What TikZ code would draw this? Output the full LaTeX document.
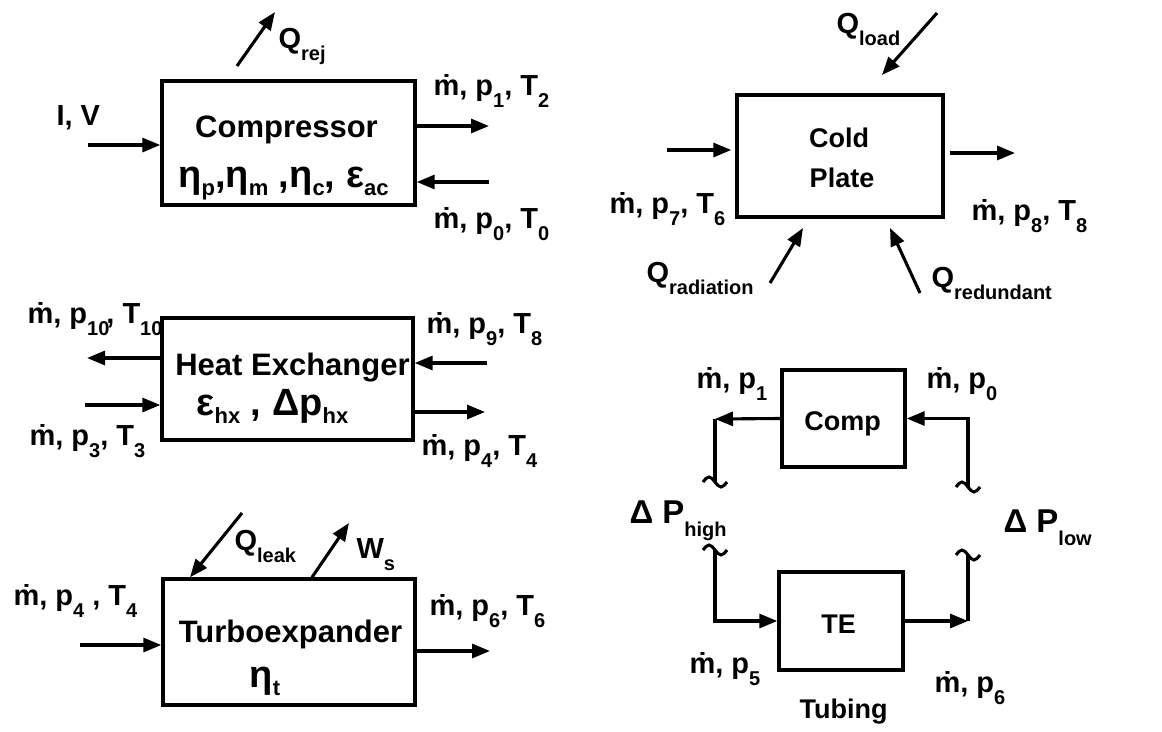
\documentclass[tikz,border=0pt]{standalone}
\usepackage{fontspec}
\setmainfont{Liberation Sans}
\usetikzlibrary{arrows.meta,positioning}

\newcommand\md{ṁ}
\newcommand\lo[1]{\raisebox{-.42em}{\fontsize{20}{20}\selectfont #1}}
\newcommand\glo[1]{\raisebox{-.22em}{\fontsize{22}{22}\selectfont #1}}

\begin{document}
\begin{tikzpicture}[
  x=1pt, y=-1pt,
  line width=3.1pt,
  blk/.style={draw, line width=3.4pt, inner sep=0pt,
              minimum width=#1},
  boxtxt/.style={font=\bfseries\fontsize{31}{33}\selectfont,
                 inner sep=0pt, anchor=base},
  smalltxt/.style={font=\bfseries\fontsize{27}{29}\selectfont,
                   inner sep=0pt, anchor=base},
  greek/.style={font=\bfseries\fontsize{38}{40}\selectfont,
                inner sep=0pt, anchor=base},
  lbl/.style={font=\bfseries\fontsize{29}{30}\selectfont,
              inner sep=0pt, anchor=base west},
  arr/.style={-{Triangle[length=18pt,width=14pt]}},
  tubewave/.pic={\draw (-12,0) sin (-6,-5) cos (0,0) sin (6,5) cos (12,0);},
]
\useasboundingbox (0,0) rectangle (1162,731);

%% --- Boxes ---
\node[blk=253pt, minimum height=124pt] (comp)   at (288.5,143) {};
\node[blk=251pt, minimum height=122pt] (hx)     at (287.5,379) {};
\node[blk=252pt, minimum height=126pt] (turbo)  at (289,642)   {};
\node[blk=206pt, minimum height=122pt] (cold)   at (840,156)   {};
\node[blk=123pt, minimum height=97pt]  (cmp)    at (843.5,418.5) {};
\node[blk=124pt, minimum height=98pt]  (tex)    at (841,621)   {};

%% --- Box texts ---
\node[boxtxt] (compname) at (286.5,137) {Compressor};
\node[greek]  (compeff)  at (283.5,187)
      {η\glo{p},η\glo{m} ,η\glo{c}, ε\glo{ac}};
\node[boxtxt] (hxname)   at (292.5,375) {Heat Exchanger};
\node[greek]  (hxeff)    at (272.5,415) {ε\glo{hx} , Δp\glo{hx}};
\node[boxtxt] (tename)   at (290.5,642) {Turboexpander};
\node[greek]  (teeff)    at (265,687)   {η\glo{t}};
\node[smalltxt] (coldA)  at (839,147)   {Cold};
\node[smalltxt] (coldB)  at (842,187)   {Plate};
\node[smalltxt] (cmpname) at (842.5,430) {Comp};
\node[smalltxt] (texname) at (838.5,633) {TE};
\node[smalltxt] (tubing)  at (843.5,718) {Tubing};

%% --- Compressor ---
\coordinate (qrjA) at (237,66);
\coordinate (qrjB) at (275,12);
\draw[arr] (qrjA) -- (qrjB);
\node[lbl] (qrj) at (277,48) {Q\lo{rej}};
\coordinate (iv) at (88,145);
\draw[arr] (iv) -- (iv -| comp.west);
\node[lbl] (ivlbl) at (55,125) {I, V};
\coordinate (c1) at (489,126);
\draw[arr] (c1 -| comp.east) -- (c1);
\node[lbl] (c1lbl) at (432,95) {\md, p\lo{1}, T\lo{2}};
\coordinate (c0) at (489,182);
\draw[arr] (c0) -- (c0 -| comp.east);
\node[lbl] (c0lbl) at (432,228) {\md, p\lo{0}, T\lo{0}};

%% --- Heat exchanger ---
\coordinate (h10) at (87,358);
\draw[arr] (h10 -| hx.west) -- (h10);
\node[lbl] (h10lbl) at (26,323) {\md, p\lo{10}\kern-3pt, T\lo{10}};
\coordinate (h3) at (85,405);
\draw[arr] (h3) -- (h3 -| hx.west);
\node[lbl] (h3lbl) at (28,445) {\md, p\lo{3}, T\lo{3}};
\coordinate (h9) at (487,363);
\draw[arr] (h9) -- (h9 -| hx.east);
\node[lbl] (h9lbl) at (425,333) {\md, p\lo{9}, T\lo{8}};
\coordinate (h4) at (485,412);
\draw[arr] (h4 -| hx.east) -- (h4);
\node[lbl] (h4lbl) at (420,455) {\md, p\lo{4}, T\lo{4}};

%% --- Turboexpander ---
\coordinate (qlk) at (242,513);
\draw[arr] (qlk) -- ([xshift=-99pt]turbo.north);
\node[lbl] (qlklbl) at (233,550) {Q\lo{leak}};
\coordinate (ws) at (349,523);
\draw[arr] ([xshift=23pt]turbo.north) -- (ws);
\node[lbl] (wslbl) at (355,558) {W\lo{s}};
\coordinate (t4) at (80,645);
\draw[arr] (t4) -- (t4 -| turbo.west);
\node[lbl] (t4lbl) at (12,605) {\md, p\lo{4} , T\lo{4}};
\coordinate (t6) at (490,651);
\draw[arr] (t6 -| turbo.east) -- (t6);
\node[lbl] (t6lbl) at (428,615) {\md, p\lo{6}, T\lo{6}};

%% --- Cold plate ---
\coordinate (qld) at (937,13);
\coordinate (qldB) at (882,75);
\draw[arr] (qld) -- (qldB);
\node[lbl] (qldlbl) at (835,33) {Q\lo{load}};
\coordinate (cp7) at (667,150);
\draw[arr, shorten >=4pt] (cp7) -- (cp7 -| cold.west);
\node[lbl] (cp7lbl) at (608,213) {\md, p\lo{7}, T\lo{6}};
\coordinate (cp8) at (1015,153);
\draw[arr, shorten <=5pt] (cp8 -| cold.east) -- (cp8);
\node[lbl] (cp8lbl) at (970,220) {\md, p\lo{8}, T\lo{8}};
\coordinate (qrd) at (770,283);
\coordinate (qrdB) at (803,228);
\draw[arr] (qrd) -- (qrdB);
\node[lbl] (qrdlbl) at (645,282) {Q\lo{radiation}};
\coordinate (qrn) at (920,293);
\coordinate (qrnB) at (890,228);
\draw[arr] (qrn) -- (qrnB);
\node[lbl] (qrnlbl) at (930,287) {Q\lo{redundant}};

%% --- Tubing loop ---
\coordinate (hl1) at (715,419);
\coordinate (hl2) at (715,482);
\coordinate (hl3) at (715,550);
\draw[arr] (cmp.west) -- (hl1);
\draw (hl1) -- (hl2);
\pic at (hl2) {tubewave};
\pic at (hl3) {tubewave};
\draw[arr] (hl3) |- (tex.west);
\coordinate (hr1) at (968,487);
\coordinate (hr2) at (968,621);
\coordinate (hr3) at (968,555);
\pic at (hr1) {tubewave};
\draw[arr] (hr1) |- (cmp.east);
\draw[arr] (tex.east) -- (hr2);
\draw (hr2) -- (hr3);
\pic at (hr3) {tubewave};

\node[lbl] (tp1) at (695,388) {\md, p\lo{1}};
\node[lbl] (tp0) at (925,388) {\md, p\lo{0}};
\node[lbl] (tp5) at (688,673) {\md, p\lo{5}};
\node[lbl] (tp6) at (933,692) {\md, p\lo{6}};
\node[lbl, font=\bfseries\fontsize{33}{34}\selectfont]
      (dph) at (628,523) {Δ P\lo{high}};
\node[lbl, font=\bfseries\fontsize{33}{34}\selectfont]
      (dpl) at (1002,532) {Δ P\lo{low}};

\end{tikzpicture}
\end{document}
